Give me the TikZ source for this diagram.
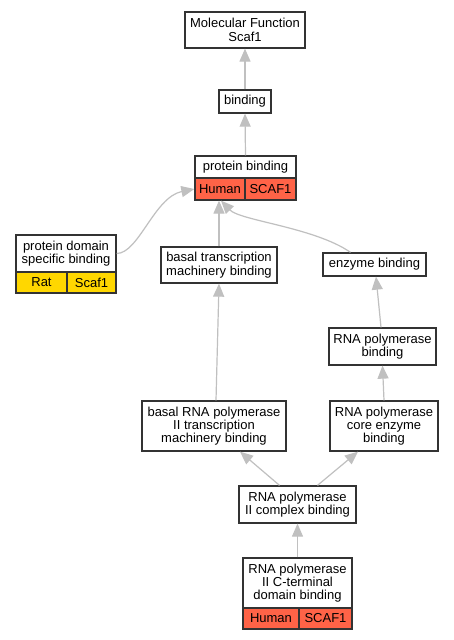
\documentclass[tikz,border=0pt]{standalone}
\usepackage{fontspec}
\setmainfont{Liberation Sans}
\usetikzlibrary{arrows.meta,calc}
\definecolor{edgegray}{HTML}{C0C0C0}
\definecolor{boxline}{HTML}{333333}
\definecolor{human}{HTML}{FF6347}
\definecolor{rat}{HTML}{FFD700}
\begin{document}
\begin{tikzpicture}[x=1pt,y=-1pt,
  box/.style={draw=boxline,line width=1.3pt,fill=white,inner sep=0pt,align=center,
    font=\fontsize{13}{13.3}\selectfont},
  cell/.style={draw=boxline,line width=1.3pt,inner sep=0pt,align=center,
    font=\fontsize{13}{13.3}\selectfont},
  edge/.style={draw=edgegray,line width=1.2pt,-{Triangle[length=13pt,width=11pt]}}]
\useasboundingbox[fill=white] (0,0) rectangle (453,640);
% nodes
\node[box,minimum width=120,minimum height=36] (mf) at (245,30) {Molecular Function\\Scaf1};
\node[box,minimum width=52,minimum height=23] (bind) at (245,101.5) {binding};
\node[box,minimum width=101,minimum height=22] (pb) at (245.5,167) {protein binding};
\node[cell,fill=human,minimum width=50,minimum height=22] (pbh) at (220,189) {Human};
\node[cell,fill=human,minimum width=51,minimum height=22] (pbs) at (270.5,189) {SCAF1};
\node[box,minimum width=100,minimum height=37] (pds) at (66,253.5) {protein domain\\specific binding};
\node[cell,fill=rat,minimum width=51,minimum height=21] (pdr) at (41.5,282.5) {Rat};
\node[cell,fill=rat,minimum width=49,minimum height=21] (pds2) at (91.5,282.5) {Scaf1};
\node[box,minimum width=116,minimum height=36] (btm) at (219,265) {basal transcription\\machinery binding};
\node[box,minimum width=103,minimum height=23] (enz) at (374.5,264.5) {enzyme binding};
\node[box,minimum width=107,minimum height=37] (rpb) at (382.5,346.5) {RNA polymerase\\binding};
\node[box,minimum width=144,minimum height=50] (brp) at (214,426) {basal RNA polymerase\\II transcription\\machinery binding};
\node[box,minimum width=108,minimum height=50] (rce) at (384,426) {RNA polymerase\\core enzyme\\binding};
\node[box,minimum width=117,minimum height=37] (cplx) at (297.5,504.5) {RNA polymerase\\II complex binding};
\node[box,minimum width=109,minimum height=50] (ctd) at (297.5,583) {RNA polymerase\\II C-terminal\\domain binding};
\node[cell,fill=human,minimum width=56,minimum height=21] (ctdh) at (271,618.5) {Human};
\node[cell,fill=human,minimum width=53,minimum height=21] (ctds) at (325.5,618.5) {SCAF1};
% edges
\draw[edge] (bind.north) -- (mf.south);
\draw[edge] (pb.north) -- (bind.south);
\draw[edge] (pds.east) .. controls ($(pds.east)+(22,0)$) and ($(pbh.west)+(-40,8)$) .. ($(pbh.west)+(0,0)$);
\draw[edge] (btm.north) -- (btm.north |- pbh.south);
\draw[edge] ($(enz.north)+(-24,0)$) .. controls ($(enz.north)+(-60,-25)$) and ($(pbh.south)+(20,20)$) .. ($(pbh.south)+(1,0)$);
\draw[edge] ($(rpb.north)+(-1.5,0)$) -- ($(enz.south)+(1.5,0)$);
\draw[edge] (rce.north) -- (rpb.south);
\draw[edge] ($(brp.north)+(2,0)$) -- (btm.south);
\draw[edge] ($(cplx.north)+(-18,0)$) -- ($(brp.south)+(26,0)$);
\draw[edge] ($(cplx.north)+(20,0)$) -- ($(rce.south)+(-26,0)$);
\draw[edge] (ctd.north) -- (cplx.south);
\end{tikzpicture}
\end{document}
